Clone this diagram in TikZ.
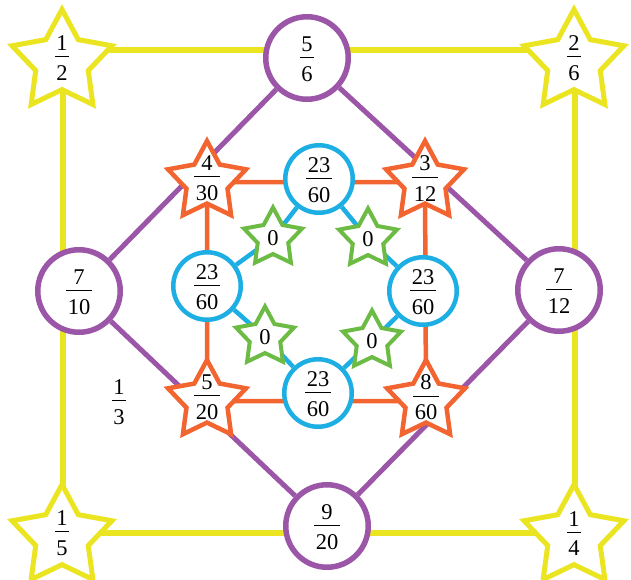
\documentclass[tikz,border=0pt]{standalone}
\usepackage{fontspec}
\setmainfont{Liberation Serif}
\usepackage{tikz}
\usetikzlibrary{shapes.geometric,backgrounds}
\definecolor{yel}{HTML}{EAE520}
\definecolor{pur}{HTML}{9B56A7}
\definecolor{ora}{HTML}{F26430}
\definecolor{blu}{HTML}{1DAEE3}
\definecolor{gre}{HTML}{6CBB44}
\newcommand{\fr}[2]{\vbox{\offinterlineskip\kern3pt\halign{\hfil\kern1.5pt##\kern1.5pt\hfil\cr #1\cr
  \noalign{\kern5.5pt\hrule height 1pt\kern8.5pt}#2\cr}}}
\tikzset{
  lab/.style={font=\fontsize{22.5}{27}\selectfont,inner sep=0pt},
  starbase/.style={star,star points=5,fill=white,inner sep=0pt,star point ratio=1.9},
  ystar/.style={starbase,draw=yel,line width=5pt,minimum size=105pt,
                label={[lab,yshift=5pt]center:#1}},
  ostar/.style={starbase,draw=ora,line width=4.5pt,minimum size=82pt,
                label={[lab,yshift=5pt]center:#1}},
  gstar/.style={starbase,draw=gre,line width=4pt,minimum size=61pt,
                label={[lab]center:#1}},
  pcirc/.style={circle,lab,draw=pur,line width=5.5pt,fill=white,minimum size=82.5pt},
  bcirc/.style={circle,lab,draw=blu,line width=4.5pt,fill=white,minimum size=67.5pt},
  yline/.style={yel,line width=5.5pt},
  pline/.style={pur,line width=5pt},
  oline/.style={ora,line width=4.5pt},
  bline/.style={blu,line width=4.5pt},
}
\begin{document}
\begin{tikzpicture}[x=1pt,y=-1pt]
  \useasboundingbox (0,0) rectangle (631,579);
  % outer frame
  \coordinate (yA) at (63,50);
  \coordinate (yB) at (575,50);
  \coordinate (yC) at (575,533);
  \coordinate (yD) at (63,533);
  \node[ystar={\fr{1}{2}}] (sTL) at (62,62) {};
  \node[ystar={\fr{2}{6}}] (sTR) at (574,62) {};
  \node[ystar={\fr{1}{5}}] (sBL) at (62,537) {};
  \node[ystar={\fr{1}{4}}] (sBR) at (574,537) {};
  % purple diamond
  \node[pcirc] (pT) at (307,58) {\fr{5}{6}};
  \node[pcirc] (pL) at (79,291) {\fr{7}{10}};
  \node[pcirc] (pR) at (559,290) {\fr{7}{12}};
  \node[pcirc] (pB) at (327,526) {\fr{9}{20}};
  % orange square
  \node[ostar={\fr{4}{30}}] (oTL) at (207,182) {};
  \node[ostar={\fr{3}{12}}] (oTR) at (425,182) {};
  \node[ostar={\fr{5}{20}}] (oBL) at (207,401) {};
  \node[ostar={\fr{8}{60}}] (oBR) at (426,401) {};
  % blue ring
  \node[bcirc] (bT) at (319,179) {\fr{23}{60}};
  \node[bcirc] (bL) at (207,286) {\fr{23}{60}};
  \node[bcirc] (bR) at (423,291) {\fr{23}{60}};
  \node[bcirc] (bB) at (318,393) {\fr{23}{60}};
  \foreach \n/\x/\y in {gTL/273/238, gTR/368/239, gBL/265/337, gBR/372/341}
    \node[gstar={0}] (\n) at (\x,\y) {};
  \node[lab] (third) at (119,401) {\fr{1}{3}};
  \begin{scope}[on background layer]
    \draw[yline] (yA) -- (yB) -- (yC) -- (yD) -- cycle;
    \draw[pline] (pT) -- (pL);
    \draw[pline] (pL) -- (pB);
    \draw[pline] (pB) -- (pR);
    \draw[pline] (pR) -- (pT);
    \draw[oline] (oTL.center) -- (oTR.center) -- (oBR.center) -- (oBL.center) -- cycle;
    \draw[bline] (bT) -- (gTL.center) -- (bL);
    \draw[bline] (bT) -- (gTR.center) -- (bR);
    \draw[bline] (bL) -- (gBL.center) -- (bB);
    \draw[bline] (bR) -- (gBR.center) -- (bB);
  \end{scope}
\end{tikzpicture}
\end{document}
